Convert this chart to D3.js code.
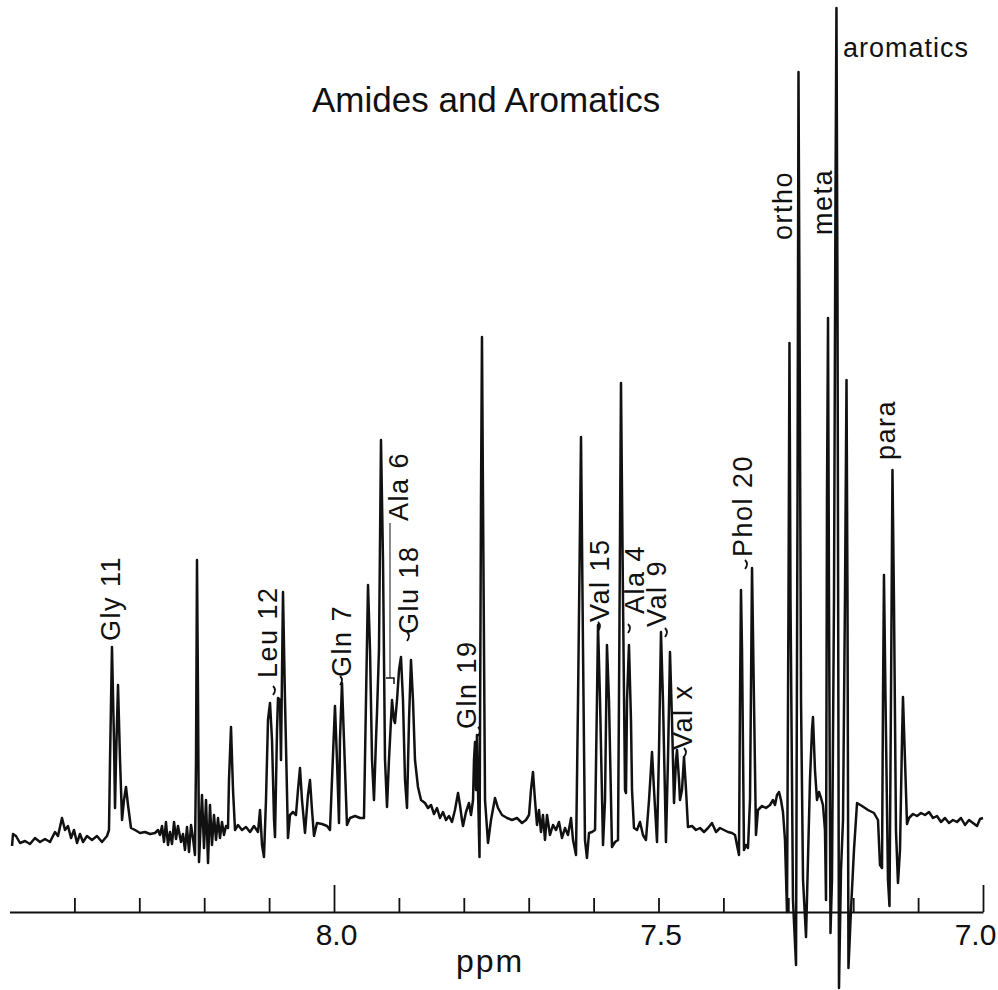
<!DOCTYPE html>
<html>
<head>
<meta charset="utf-8">
<script src="https://cdn.jsdelivr.net/npm/d3@7"></script>
<style>
  html, body { margin: 0; padding: 0; background: #fff; }
  svg { display: block; }
  text { font-family: "Liberation Sans", Arial, sans-serif; fill: #111; }
</style>
</head>
<body>
<div id="chart"></div>
<script>
// chemical shift (ppm) of each traced point of the spectrum, left to right
const shift = [
  8.4961, 8.4946, 8.4900, 8.4838, 8.4761, 8.4684, 8.4607, 8.4530, 8.4453, 8.4376,
  8.4299, 8.4253, 8.4191, 8.4145, 8.4099, 8.4052, 8.4006, 8.3960, 8.3914, 8.3867,
  8.3806, 8.3729, 8.3652, 8.3575, 8.3498, 8.3467, 8.3451, 8.3421, 8.3390, 8.3374,
  8.3359, 8.3328, 8.3297, 8.3266, 8.3236, 8.3205, 8.3174, 8.3128, 8.3066, 8.2989,
  8.2912, 8.2835, 8.2758, 8.2712, 8.2681, 8.2650, 8.2619, 8.2589, 8.2558, 8.2527,
  8.2496, 8.2465, 8.2434, 8.2404, 8.2357, 8.2327, 8.2296, 8.2265, 8.2234, 8.2203,
  8.2173, 8.2142, 8.2126, 8.2111, 8.2095, 8.2080, 8.2034, 8.2003, 8.1972, 8.1941,
  8.1911, 8.1880, 8.1849, 8.1818, 8.1787, 8.1757, 8.1726, 8.1695, 8.1664, 8.1633,
  8.1618, 8.1587, 8.1556, 8.1525, 8.1479, 8.1418, 8.1356, 8.1294, 8.1233, 8.1171,
  8.1140, 8.1109, 8.1079, 8.1048, 8.1017, 8.0986, 8.0955, 8.0924, 8.0909, 8.0878,
  8.0863, 8.0832, 8.0817, 8.0786, 8.0755, 8.0709, 8.0678, 8.0632, 8.0586, 8.0555,
  8.0524, 8.0493, 8.0447, 8.0401, 8.0370, 8.0339, 8.0308, 8.0262, 8.0185, 8.0108,
  8.0062, 8.0031, 7.9985, 7.9954, 7.9923, 7.9908, 7.9877, 7.9846, 7.9800, 7.9753,
  7.9676, 7.9599, 7.9538, 7.9507, 7.9476, 7.9445, 7.9414, 7.9384, 7.9353, 7.9337,
  7.9307, 7.9276, 7.9245, 7.9214, 7.9183, 7.9153, 7.9106, 7.9076, 7.9060, 7.9029,
  7.8998, 7.8968, 7.8937, 7.8906, 7.8875, 7.8844, 7.8814, 7.8783, 7.8752, 7.8706,
  7.8659, 7.8598, 7.8552, 7.8505, 7.8459, 7.8413, 7.8367, 7.8321, 7.8274, 7.8228,
  7.8182, 7.8136, 7.8089, 7.8059, 7.8028, 7.8012, 7.7966, 7.7920, 7.7889, 7.7858,
  7.7843, 7.7827, 7.7812, 7.7797, 7.7781, 7.7758, 7.7735, 7.7720, 7.7704, 7.7673,
  7.7627, 7.7581, 7.7519, 7.7473, 7.7411, 7.7334, 7.7257, 7.7180, 7.7103, 7.7042,
  7.6995, 7.6965, 7.6934, 7.6903, 7.6872, 7.6841, 7.6811, 7.6780, 7.6749, 7.6718,
  7.6672, 7.6626, 7.6579, 7.6533, 7.6487, 7.6441, 7.6395, 7.6348, 7.6317, 7.6271,
  7.6240, 7.6194, 7.6163, 7.6133, 7.6102, 7.6071, 7.6025, 7.5978, 7.5948, 7.5932,
  7.5901, 7.5855, 7.5824, 7.5794, 7.5763, 7.5717, 7.5670, 7.5624, 7.5609, 7.5578,
  7.5547, 7.5516, 7.5501, 7.5485, 7.5455, 7.5424, 7.5408, 7.5378, 7.5331, 7.5285,
  7.5239, 7.5193, 7.5146, 7.5100, 7.5069, 7.5023, 7.4992, 7.4962, 7.4931, 7.4885,
  7.4854, 7.4823, 7.4792, 7.4761, 7.4730, 7.4715, 7.4684, 7.4669, 7.4638, 7.4607,
  7.4576, 7.4546, 7.4484, 7.4422, 7.4361, 7.4299, 7.4237, 7.4176, 7.4114, 7.4053,
  7.3991, 7.3929, 7.3868, 7.3821, 7.3791, 7.3760, 7.3744, 7.3729, 7.3713, 7.3683,
  7.3652, 7.3621, 7.3590, 7.3559, 7.3529, 7.3498, 7.3467, 7.3405, 7.3344, 7.3282,
  7.3236, 7.3205, 7.3174, 7.3143, 7.3113, 7.3082, 7.3051, 7.3020, 7.2997, 7.2982,
  7.2966, 7.2928, 7.2881, 7.2858, 7.2843, 7.2828, 7.2804, 7.2773, 7.2727, 7.2697,
  7.2666, 7.2635, 7.2620, 7.2589, 7.2558, 7.2527, 7.2496, 7.2466, 7.2435, 7.2419,
  7.2404, 7.2388, 7.2373, 7.2350, 7.2327, 7.2296, 7.2273, 7.2258, 7.2242, 7.2219,
  7.2188, 7.2157, 7.2127, 7.2103, 7.2088, 7.2073, 7.2034, 7.1988, 7.1941, 7.1864,
  7.1772, 7.1680, 7.1618, 7.1587, 7.1556, 7.1541, 7.1526, 7.1502, 7.1464, 7.1441,
  7.1418, 7.1395, 7.1372, 7.1341, 7.1310, 7.1279, 7.1248, 7.1233, 7.1202, 7.1171,
  7.1140, 7.1079, 7.1017, 7.0955, 7.0894, 7.0832, 7.0770, 7.0709, 7.0647, 7.0586,
  7.0524, 7.0462, 7.0401, 7.0339, 7.0277, 7.0216, 7.0154, 7.0092, 7.0046, 7.0000
];

// signal intensity (arbitrary units) at each of those points
const intensity = [
  -1.6, -0.4, -0.6, -1.3, -1.1, -1.4, -0.8, -1.2, -0.9, -1.2,
  -0.2, -0.6, 1.2, 0, 0.4, -0.8, 0, -1.3, -0.4, -1.2,
  -0.6, -1.0, -0.6, -1.2, -0.6, 0, 7.0, 18.3, 9.0, 2.2,
  7.0, 14.5, 7.0, 1.0, 3.0, 4.3, 2.5, 0.2, 0, -0.3,
  -0.2, -0.4, -0.3, 0, -0.5, 0.4, -1.2, 0.8, -1.5, -0.2,
  -1.4, 0.8, -0.9, 0.4, -1.2, -0.4, -2.0, 0.3, -2.2, 0.5,
  -0.8, -2.5, 7.0, 27.0, 13.0, -3.2, 3.5, -1.8, 3.0, -3.3,
  2.5, -1.5, 1.5, -1.0, 1.2, -0.8, 0.8, -0.5, 0.4, 0.2,
  5.0, 10.3, 4.0, 0, 0.5, 0, 0.3, -0.2, 0.4, -0.2,
  2.0, -1.5, -2.7, 3.0, 11.0, 12.7, 9.0, 1.0, -0.7, 10.0,
  13.2, 13.0, 7.0, 23.8, 13.0, -0.8, 1.5, 1.8, 1.5, 4.0,
  6.2, 3.0, -0.3, 3.5, 5.0, 2.0, -0.6, 0.7, 0.6, 0.4,
  0, 5.0, 12.4, 7.0, 0.7, 9.0, 14.7, 9.0, 0.5, 1.2,
  1.4, 1.2, 1.2, 13.0, 24.5, 18.0, 7.0, 3.0, 9.0, 11.8,
  18.0, 39.0, 27.0, 7.0, 2.3, 7.0, 13.0, 11.0, 10.7, 13.0,
  16.0, 17.3, 13.0, 5.0, 2.2, 11.0, 17.0, 13.0, 7.0, 4.3,
  3.0, 2.7, 2.2, 2.5, 1.6, 2.2, 1.2, 1.8, 1.0, 1.4,
  0.8, 2.0, 3.7, 2.5, 1.0, 0.4, 1.8, 2.7, 1.5, 3.0,
  7.0, 8.8, 4.0, 9.5, 4.0, -2.7, 33.0, 49.3, 33.0, 3.0,
  -1.3, 1.0, 3.2, 2.2, 1.5, 1.2, 1.0, 1.2, 0.7, 1.0,
  1.5, 4.0, 5.8, 3.0, 0.5, 2.0, -0.2, 1.5, -1.0, 1.5,
  -0.5, 0.5, 0, 0.8, -0.8, 0.2, -0.5, 1.2, -1.0, -2.5,
  13.0, 39.3, 18.0, -1.0, -2.8, -0.3, -0.2, 0, 13.0, 20.5,
  13.0, -1.5, 3.0, 18.5, 13.0, -1.7, -1.2, -1.0, 13.0, 44.7,
  23.0, 4.0, 3.7, 13.0, 18.5, 11.0, 4.0, 0.2, 0, 0.8,
  -0.5, -1.0, 3.0, 7.8, 4.0, -1.2, 8.0, 19.8, 13.0, -1.2,
  7.0, 17.8, 11.0, 2.7, 7.0, 8.0, 5.0, 3.0, 4.0, 7.3,
  4.0, 0.3, 0.4, 0, 0.2, -0.2, 0.2, 0.7, -0.2, 0.2,
  0, -0.2, -0.3, -0.5, -1.5, -2.5, 13.0, 24.0, 18.0, -2.0,
  -1.5, -1.8, 3.0, 26.2, 13.0, -0.5, 2.0, 2.4, 2.2, 2.5,
  3.0, 2.5, 3.5, 3.8, 3.0, 1.8, -1.0, -8.2, 23.0, 48.7,
  23.0, -7.0, -13.5, 33.0, 75.8, 53.0, 13.0, -5.0, -10.7, -3.0,
  5.0, 10.0, 11.3, 6.0, 3.0, 3.8, 3.2, 2.5, 0, -7.0,
  33.0, 51.2, 23.0, -10.3, -5.0, 23.0, 63.0, 82.2, 53.0, -15.8,
  -4.0, 1.0, 23.0, 45.0, 23.0, -13.8, -8.0, -2.0, 2.7, 2.4,
  2.0, 1.7, 1.0, -3.5, -3.8, 13.0, 25.5, 13.0, -5.0, -7.6,
  13.0, 36.0, 23.0, 0, -5.3, -2.0, 9.0, 13.3, 7.0, 0.6,
  1.2, 1.6, 1.4, 1.7, 1.5, 1.8, 1.2, 1.4, 0.8, 1.2,
  0.7, 1.0, 0.8, 1.2, 0.5, 1.0, 0.7, 0.4, 1.1, 1.2
];

// axis ticks every 0.1 ppm, labels on three of them
const tickPpm = [8.4, 8.3, 8.2, 8.1, 8.0, 7.9, 7.8, 7.7, 7.6, 7.5, 7.4, 7.3, 7.2, 7.1, 7.0];
const majorTicks = [8.0, 7.0];
const labeledTicks = [8.0, 7.5, 7.0];

// peak assignments
const peakNames = ["Gly 11", "Leu 12", "Gln 7", "Ala 6", "Glu 18", "Gln 19",
                   "Val 15", "Ala 4", "Val 9", "Val x", "Phol 20", "ortho", "meta", "para"];
const peakPpm = [8.3297, 8.0878, 7.9738, 7.8860, 7.8706, 7.7812,
                 7.5763, 7.5224, 7.4885, 7.4484, 7.3559, 7.2943, 7.2327, 7.1356];
const peakLabelLevel = [18.9, 15.2, 15.3, 30.9, 19.6, 10.1,
                        20.8, 21.6, 20.3, 8.0, 27.3, 59.0, 59.5, 37.0];

const W = 998, H = 990;

const svg = d3.select("#chart").append("svg")
    .attr("width", W)
    .attr("height", H);

const x = d3.scaleLinear().domain([8.5, 7.0]).range([9.5, 983]);
const y = d3.scaleLinear().domain([-16, 82]).range([990, 10]);

// title
svg.append("text")
    .attr("x", 312)
    .attr("y", 112)
    .attr("font-size", 35)
    .text("Amides and Aromatics");

// spectrum trace
const points = shift.map((s, i) => [s, intensity[i]]);
const line = d3.line()
    .x(d => x(d[0]))
    .y(d => y(d[1]));

svg.append("path")
    .datum(points)
    .attr("d", line)
    .attr("fill", "none")
    .attr("stroke", "#111")
    .attr("stroke-width", 2.5)
    .attr("stroke-linejoin", "round");

// ppm axis
const axisY = 912;
const axis = d3.axisBottom(x)
    .tickValues(tickPpm)
    .tickSizeInner(-14)
    .tickSizeOuter(0)
    .tickFormat(d => labeledTicks.includes(d) ? d.toFixed(1) : "");

const gAxis = svg.append("g")
    .attr("transform", "translate(0," + axisY + ")")
    .call(axis);

gAxis.select(".domain").attr("stroke", "#111").attr("stroke-width", 2);
gAxis.selectAll(".tick line")
    .attr("stroke", "#111")
    .attr("stroke-width", 1.8)
    .attr("y2", d => majorTicks.includes(d) ? -27 : -14);
gAxis.selectAll(".tick text")
    .attr("y", 33)
    .attr("dy", 0)
    .attr("dx", d => d === 7.0 ? -8 : 2)
    .attr("font-size", 30)
    .attr("font-family", "Liberation Sans, Arial, sans-serif")
    .attr("fill", "#111");

svg.append("text")
    .attr("x", 490)
    .attr("y", 972)
    .attr("text-anchor", "middle")
    .attr("font-size", 32)
    .attr("letter-spacing", 2)
    .text("ppm");

// vertical assignment labels
const hooks = {
  "Leu 12": [-4, 12], "Gln 7": [-11, 3], "Glu 18": [-11, 2], "Gln 19": [2, 2],
  "Val 15": [-11, 4], "Ala 4": [-16, 14], "Val 9": [-1, 5], "Val x": [-8, 2],
  "Phol 20": [-7, 7]
};

const labels = svg.append("g");
peakNames.forEach((name, i) => {
  const lx = x(peakPpm[i]), ly = y(peakLabelLevel[i]);
  labels.append("text")
      .attr("transform", "translate(" + lx + "," + ly + ") rotate(-90)")
      .attr("font-size", 27)
      .attr("letter-spacing", 1.5)
      .text(name);
  if (hooks[name]) {
    const hx = lx + hooks[name][0], hy = ly + hooks[name][1];
    labels.append("path")
        .attr("d", "M" + hx + "," + (hy - 4) + " Q" + (hx + 4) + "," + hy + " " + hx + "," + (hy + 5))
        .attr("fill", "none")
        .attr("stroke", "#111")
        .attr("stroke-width", 1.8);
  }
});

// Ala 6 leader line down to its peak
const ala6 = peakNames.indexOf("Ala 6");
labels.append("line")
    .attr("x1", x(peakPpm[ala6]) - 18)
    .attr("x2", x(peakPpm[ala6]) - 18)
    .attr("y1", y(peakLabelLevel[ala6]) + 2)
    .attr("y2", y(15.2))
    .attr("stroke", "#111")
    .attr("stroke-width", 1);
labels.append("path")
    .attr("d", "M" + (x(peakPpm[ala6]) - 22) + "," + y(15.2) + " h8 v6")
    .attr("fill", "none")
    .attr("stroke", "#111")
    .attr("stroke-width", 1.5);

// horizontal label by the tallest line
svg.append("text")
    .attr("x", x(7.2157))
    .attr("y", y(77.3))
    .attr("font-size", 27)
    .attr("letter-spacing", 1)
    .text("aromatics");
</script>
</body>
</html>
